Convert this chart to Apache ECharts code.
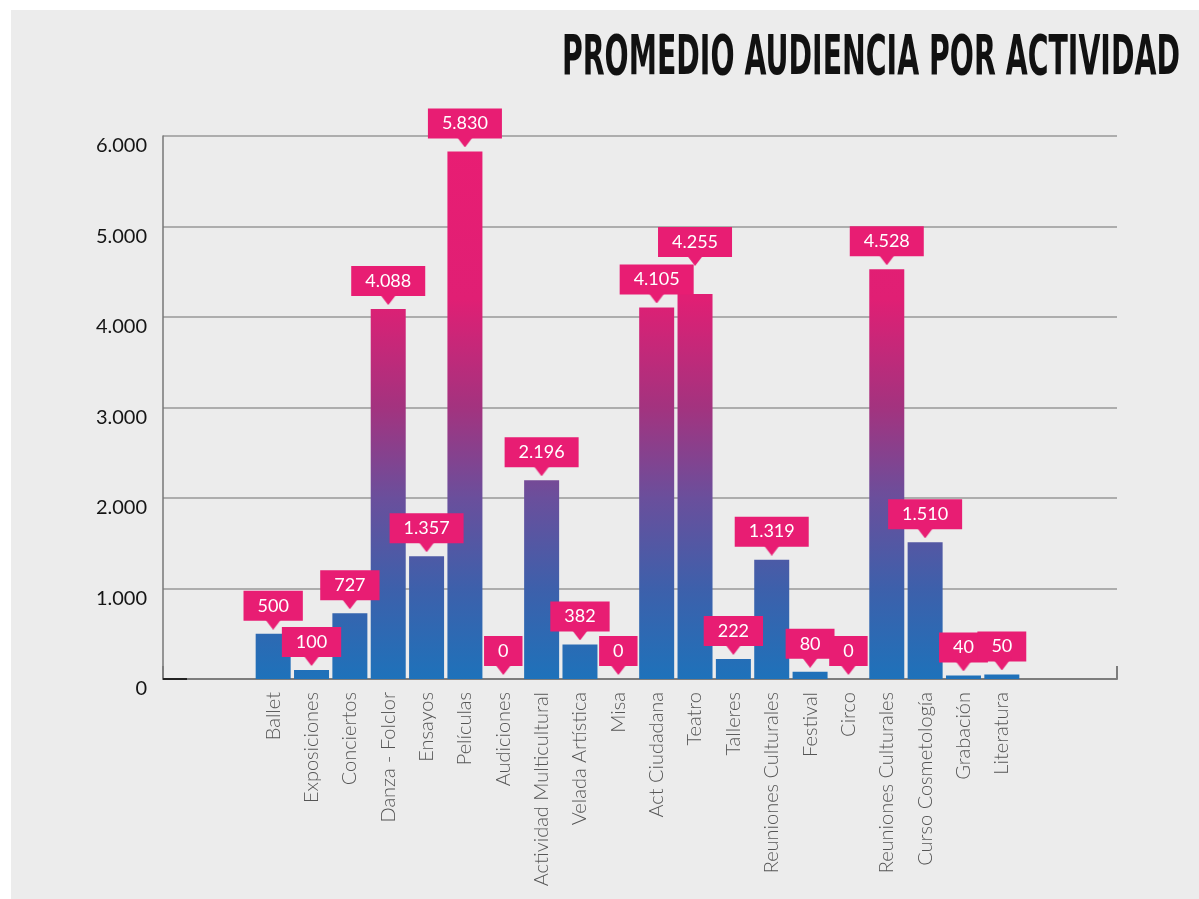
<!DOCTYPE html>
<html>
<head>
<meta charset="utf-8">
<script src="https://cdn.jsdelivr.net/npm/echarts@6/dist/echarts.min.js"></script>
<style>
html,body{margin:0;padding:0;background:#ffffff;width:1199px;height:899px;overflow:hidden;}
#bg{position:absolute;left:11px;top:10px;right:0;bottom:0;background:#ececec;}
#chart{position:absolute;left:0;top:0;width:1199px;height:899px;}
</style>
</head>
<body>
<div id="bg"></div>
<div id="chart"></div>
<script>
const titleText = 'PROMEDIO AUDIENCIA POR ACTIVIDAD';
const categories = ['Ballet','Exposiciones','Conciertos','Danza - Folclor','Ensayos','Películas','Audiciones','Actividad Multicultural','Velada Artística','Misa','Act Ciudadana','Teatro','Talleres','Reuniones Culturales','Festival','Circo','Reuniones Culturales','Curso Cosmetología','Grabación','Literatura'];
const values = [500,100,727,4088,1357,5830,0,2196,382,0,4105,4255,222,1319,80,0,4528,1510,40,50];
const yTicks = [0,1000,2000,3000,4000,5000,6000];

function fmt(v){
  const s = String(Math.round(v));
  return s.replace(/\B(?=(\d{3})+(?!\d))/g, '.');
}

const PINK = '#e81d73';
// triangle pointer image for the callout labels
const tri = document.createElement('canvas');
tri.width = 20; tri.height = 13;
const tc = tri.getContext('2d');
tc.fillStyle = PINK;
tc.beginPath(); tc.moveTo(0,0); tc.lineTo(20,0); tc.lineTo(10,13); tc.closePath(); tc.fill();

const chart = echarts.init(document.getElementById('chart'), null, {renderer:'canvas'});

const grad = new echarts.graphic.LinearGradient(0, 136, 0, 679, [
  {offset:0, color:'#e91d73'},
  {offset:0.30, color:'#e01f74'},
  {offset:0.50, color:'#a3337f'},
  {offset:0.667, color:'#6a4f9c'},
  {offset:0.834, color:'#3d60ab'},
  {offset:1, color:'#1e72ba'}
], true);

// Teatro's callout is lifted so it clears the neighbouring callout
const barData = values.map((v, i) => categories[i] === 'Teatro'
  ? {value: v, label: {distance: 28}}
  : v);

const option = {
  backgroundColor: 'transparent',
  animation: false,
  graphic: [{
    type: 'text',
    right: 19,
    top: 32,
    scaleX: 0.516,
    originX: 1180, originY: 0,
    style: {
      text: titleText,
      font: 'bold 55px "DejaVu Sans"',
      fill: '#111111'
    }
  }, {
    type: 'line',
    shape: {x1: 163, y1: 679, x2: 187, y2: 679},
    style: {stroke: '#222222', lineWidth: 2},
    z: 10
  }],
  grid: [
    {left:163, right:82, top:136, bottom:220},
    {left:254, right:178, top:136, bottom:220}
  ],
  xAxis: [
    {
      type:'value', gridIndex:0, min:0, max:1, interval:1,
      axisLine:{show:true, lineStyle:{color:'#7d7d7d', width:2}},
      axisTick:{show:true, inside:true, length:13, lineStyle:{color:'#7d7d7d', width:2}},
      axisLabel:{show:false}, splitLine:{show:false}
    },
    {
      type:'category', gridIndex:1, data:categories,
      axisLine:{show:false}, axisTick:{show:false},
      axisLabel:{
        interval:0, rotate:90, margin:13,
        fontFamily:'Lato', fontWeight:300, fontSize:20, color:'#555555'
      }
    }
  ],
  yAxis: [
    {
      type:'value', gridIndex:0, min:0, max:6000, interval:1000,
      axisLine:{show:true, lineStyle:{color:'#777777', width:1.5}},
      axisTick:{show:false},
      splitLine:{show:true, lineStyle:{color:'#999999', width:1.5}},
      axisLabel:{
        margin:16, fontFamily:'Lato', fontSize:20, color:'#151515',
        verticalAlign:'top', lineHeight:20,
        formatter: v => fmt(v)
      }
    },
    {
      type:'value', gridIndex:1, min:0, max:6000, interval:1000, show:false
    }
  ],
  series: [{
    type:'bar', xAxisIndex:1, yAxisIndex:1,
    data: barData,
    barWidth: 35,
    itemStyle:{color: grad},
    label:{
      show:true, position:'top', distance:4,
      formatter: p => '{box|' + fmt(p.value) + '}\n{arrow| }',
      rich:{
        box:{
          backgroundColor: PINK, color:'#ffffff', fontFamily:'Lato', fontSize:18,
          lineHeight:22, height:22, padding:[4,14,4,14], align:'center'
        },
        arrow:{
          backgroundColor:{image: tri}, width:20, height:13, lineHeight:13, fontSize:1, align:'center'
        }
      }
    }
  }]
};
chart.setOption(option);
</script>
</body>
</html>
